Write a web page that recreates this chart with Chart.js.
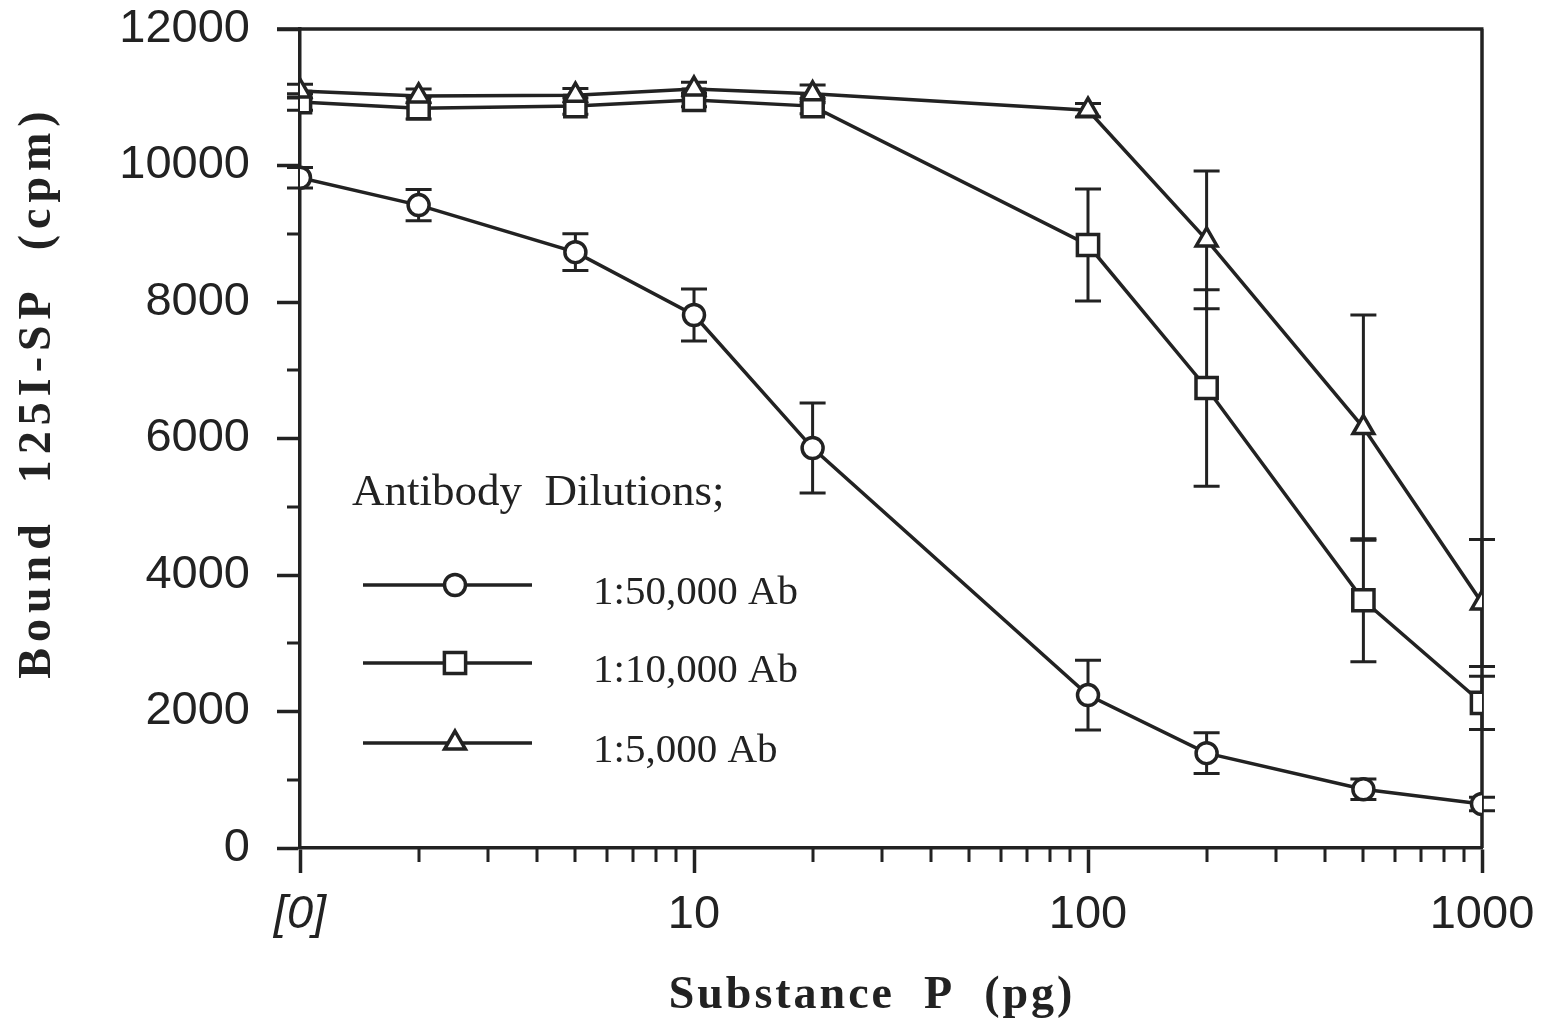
<!DOCTYPE html>
<html>
<head>
<meta charset="utf-8">
<script src="https://cdn.jsdelivr.net/npm/chart.js@4.4.1/dist/chart.umd.min.js"></script>
<style>
html,body{margin:0;padding:0;background:#ffffff;}
#wrap{width:1551px;height:1020px;position:relative;}
</style>
</head>
<body>
<div id="wrap"><canvas id="c" width="1551" height="1020"></canvas></div>
<script>
// ---- data ----
const xValues = [1, 2, 5, 10, 20, 100, 200, 500, 1000];
const ab50000 = [9820, 9420, 8730, 7810, 5860, 2240, 1390, 860, 645];
const ab50000Err = [150, 230, 270, 380, 660, 510, 300, 150, 100];
const ab10000 = [10930, 10840, 10870, 10960, 10870, 8835, 6740, 3630, 2125];
const ab10000Err = [120, 160, 120, 100, 110, 820, 1440, 900, 390];
const ab5000 = [11090, 11020, 11030, 11120, 11050, 10810, 8910, 6160, 3590];
const ab5000Err = [100, 100, 100, 100, 130, 100, 1010, 1650, 930];
const seriesNames = ['1:50,000 Ab', '1:10,000 Ab', '1:5,000 Ab'];
const xMajorTicks = [1, 10, 100, 1000];
const xTickText = ['[0]', '10', '100', '1000'];
const xMinorTicks = [2,3,4,5,6,7,8,9,20,30,40,50,60,70,80,90,200,300,400,500,600,700,800,900];
const yMinorTicks = [1000, 3000, 5000, 7000, 9000, 11000];
const legendTitle = 'Antibody  Dilutions;';
const xTitle = 'Substance  P  (pg)';
const yTitle = 'Bound  125I-SP  (cpm)';

const ink = '#222222';
const sansFont = "'Liberation Sans', Arial, Helvetica, sans-serif";
const serifFont = "'Liberation Serif', 'Times New Roman', serif";

function pts(vals) { return xValues.map((x, i) => ({ x: x, y: vals[i] })); }

function ds(label, vals, errs, style, radius, order) {
  return {
    label: label, data: pts(vals), errors: errs,
    borderColor: ink, borderWidth: 3.5, backgroundColor: '#ffffff',
    pointStyle: style, pointRadius: radius, pointHoverRadius: radius,
    pointBorderWidth: 3.5, pointBackgroundColor: '#ffffff', pointBorderColor: ink,
    tension: 0, order: order
  };
}

const decor = {
  id: 'decor',
  beforeDatasetsDraw(chart) {
    const { ctx, chartArea: a, scales: { x, y } } = chart;
    ctx.save();
    ctx.strokeStyle = ink;
    ctx.lineCap = 'butt';
    ctx.lineWidth = 3.5;
    ctx.beginPath();
    ctx.moveTo(a.left - 23, a.top); ctx.lineTo(a.right + 1.5, a.top);
    ctx.moveTo(a.right, a.top); ctx.lineTo(a.right, a.bottom);
    ctx.stroke();
    ctx.lineWidth = 3;
    ctx.beginPath();
    xMinorTicks.forEach(v => {
      const px = Math.round(x.getPixelForValue(v));
      ctx.moveTo(px, a.bottom); ctx.lineTo(px, a.bottom + 14);
    });
    yMinorTicks.forEach(v => {
      const py = Math.round(y.getPixelForValue(v));
      ctx.moveTo(a.left - 13, py); ctx.lineTo(a.left, py);
    });
    ctx.stroke();
    ctx.lineWidth = 3;
    chart.data.datasets.forEach(d => {
      d.data.forEach((p, i) => {
        const e = d.errors[i];
        const px = x.getPixelForValue(p.x);
        const yt = y.getPixelForValue(p.y + e);
        const yb = y.getPixelForValue(p.y - e);
        ctx.beginPath();
        ctx.moveTo(px, yt); ctx.lineTo(px, yb);
        ctx.moveTo(px - 13, yt); ctx.lineTo(px + 13, yt);
        ctx.moveTo(px - 13, yb); ctx.lineTo(px + 13, yb);
        ctx.stroke();
      });
    });
    ctx.restore();
  },
  afterDraw(chart) {
    const { ctx } = chart;
    ctx.save();
    ctx.fillStyle = ink;
    ctx.textAlign = 'center';
    ctx.textBaseline = 'alphabetic';
    try { ctx.letterSpacing = '3px'; } catch (e) {}
    ctx.font = "bold 46px " + serifFont;
    ctx.fillText(xTitle, 872, 1008);
    ctx.save();
    ctx.translate(50, 392);
    ctx.rotate(-Math.PI / 2);
    try { ctx.letterSpacing = '6px'; } catch (e) {}
    ctx.font = "bold 46px " + serifFont;
    ctx.fillText(yTitle, 0, 0);
    ctx.restore();
    try { ctx.letterSpacing = '0px'; } catch (e) {}
    ctx.textAlign = 'left';
    ctx.font = "45px " + serifFont;
    ctx.fillText(legendTitle, 352, 505);
    const rows = [585, 663, 743];
    ctx.font = "41px " + serifFont;
    [0, 1, 2].forEach((di, k) => {
      const d = chart.data.datasets[di];
      const yy = rows[k];
      ctx.strokeStyle = ink;
      ctx.lineWidth = 3.5;
      ctx.beginPath(); ctx.moveTo(363, yy); ctx.lineTo(532, yy); ctx.stroke();
      ctx.fillStyle = '#ffffff';
      Chart.helpers.drawPoint(ctx, { pointStyle: d.pointStyle, radius: d.pointRadius, borderWidth: 3.5, rotation: 0 }, 455, yy);
      ctx.fillStyle = ink;
      ctx.fillText(d.label, 593, yy + 19);
    });
    ctx.restore();
  }
};

new Chart(document.getElementById('c'), {
  type: 'line',
  data: {
    datasets: [
      ds(seriesNames[0], ab50000, ab50000Err, 'circle', 10.5, 2),
      ds(seriesNames[1], ab10000, ab10000Err, 'rect', 15, 1),
      ds(seriesNames[2], ab5000, ab5000Err, 'triangle', 12, 0)
    ]
  },
  options: {
    responsive: false,
    animation: false,
    devicePixelRatio: 1,
    layout: { padding: { top: 29, right: 69, left: 0, bottom: 0 } },
    plugins: { legend: { display: false }, tooltip: { enabled: false } },
    scales: {
      x: {
        type: 'logarithmic', min: 1, max: 1000, position: 'bottom',
        afterBuildTicks: (s) => { s.ticks = xMajorTicks.map(v => ({ value: v })); },
        afterFit: (s) => { s.height = 172; s.paddingLeft = 0; s.paddingRight = 0; },
        ticks: {
          autoSkip: false, maxRotation: 0, padding: 14, color: ink,
          callback: (v) => { const i = xMajorTicks.indexOf(v); return i >= 0 ? xTickText[i] : ''; },
          font: (c) => (c.tick && c.tick.value === 1)
            ? { family: sansFont, size: 47, style: 'italic' }
            : { family: sansFont, size: 47 }
        },
        grid: { drawOnChartArea: false, drawTicks: true, tickLength: 25, tickWidth: 3.5, tickColor: ink },
        border: { display: true, width: 3.5, color: ink }
      },
      y: {
        type: 'linear', min: 0, max: 12000,
        afterFit: (s) => { s.width = 300; s.paddingTop = 0; s.paddingBottom = 0; },
        ticks: { stepSize: 2000, padding: 27, color: ink, font: { family: sansFont, size: 47 },
          callback: (v) => String(v) },
        grid: { drawOnChartArea: false, drawTicks: true, tickLength: 23, tickWidth: 3.5, tickColor: ink },
        border: { display: true, width: 3.5, color: ink }
      }
    }
  },
  plugins: [decor]
});
</script>
</body>
</html>
